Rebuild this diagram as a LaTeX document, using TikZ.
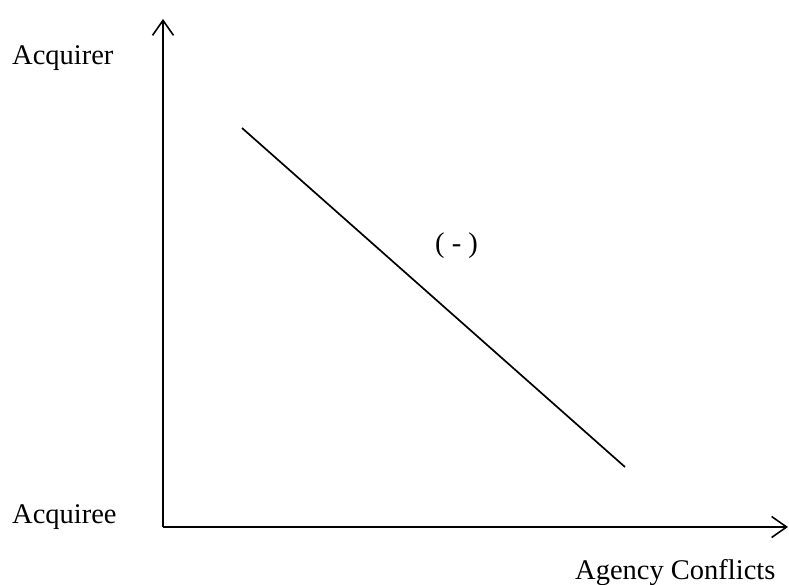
\documentclass[tikz,border=0pt]{standalone}
\usepackage{fontspec}
\setmainfont{Liberation Serif}
\usetikzlibrary{arrows.meta}
\tikzset{
  axis/.style={line width=2pt, -{Straight Barb[length=15pt,width=21pt,line width=1.6pt]}},
  trend/.style={line width=1.7pt},
  lbl/.style={inner sep=0pt, font=\fontsize{28.5}{33}\selectfont}
}
\begin{document}
\begin{tikzpicture}[x=1pt,y=-1pt]
\useasboundingbox (0,0) rectangle (789,585);
\coordinate (o) at (163,527);
\coordinate (ytip) at (163,19);
\coordinate (xtip) at (788,527);
\coordinate (s) at (242,128);
\coordinate (e) at (625,467);
\draw[axis] (o) -- (ytip);
\draw[axis] (o) -- (xtip);
\draw[trend] (s) -- (e);
\node[lbl, anchor=base west] (acq) at (12,65) {Acquirer};
\node[lbl, anchor=base west] (acqe) at (12,523) {Acquiree};
\node[lbl, anchor=base west] (neg) at (435,252) {( - )};
\node[lbl, anchor=base west] (ac) at (575,579) {Agency Conflicts};
\end{tikzpicture}
\end{document}
